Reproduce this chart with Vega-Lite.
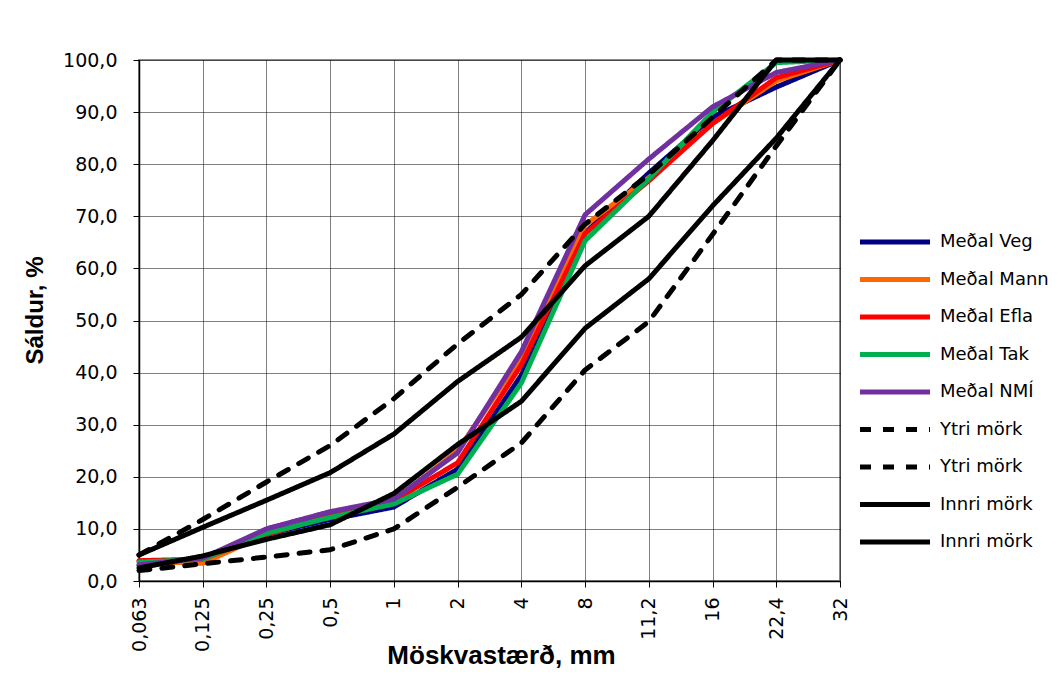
{
  "$schema": "https://vega.github.io/schema/vega-lite/v6.json",
  "autosize": {"type": "none"},
  "width": 701,
  "height": 521,
  "padding": {"left": 139, "top": 60, "right": 220, "bottom": 116},
  "background": "white",
  "config": {
    "view": {"stroke": "#8c8c8c", "strokeWidth": 2},
    "font": "DejaVu Sans",
    "axis": {
      "gridColor": "#000000",
      "gridDash": [1, 1],
      "gridWidth": 1,
      "gridOpacity": 1,
      "domainColor": "#000000",
      "domainWidth": 1.5,
      "tickColor": "#000000",
      "tickSize": 6,
      "labelColor": "#000000",
      "titleColor": "#000000",
      "labelFont": "DejaVu Sans",
      "labelFontSize": 19,
      "titleFont": "Liberation Sans",
      "titleFontWeight": "bold"
    }
  },
  "data": {
    "values": [
      {"size": "0,063", "series": "Meðal Veg", "pct": 3.0},
      {"size": "0,125", "series": "Meðal Veg", "pct": 4.2},
      {"size": "0,25", "series": "Meðal Veg", "pct": 9.0},
      {"size": "0,5", "series": "Meðal Veg", "pct": 11.8},
      {"size": "1", "series": "Meðal Veg", "pct": 14.2},
      {"size": "2", "series": "Meðal Veg", "pct": 21.5},
      {"size": "4", "series": "Meðal Veg", "pct": 39.5},
      {"size": "8", "series": "Meðal Veg", "pct": 66.8},
      {"size": "11,2", "series": "Meðal Veg", "pct": 78.3},
      {"size": "16", "series": "Meðal Veg", "pct": 89.0},
      {"size": "22,4", "series": "Meðal Veg", "pct": 94.8},
      {"size": "32", "series": "Meðal Veg", "pct": 100},

      {"size": "0,063", "series": "Meðal Mann", "pct": 3.8},
      {"size": "0,125", "series": "Meðal Mann", "pct": 3.4},
      {"size": "0,25", "series": "Meðal Mann", "pct": 9.0},
      {"size": "0,5", "series": "Meðal Mann", "pct": 12.5},
      {"size": "1", "series": "Meðal Mann", "pct": 15.4},
      {"size": "2", "series": "Meðal Mann", "pct": 25.0},
      {"size": "4", "series": "Meðal Mann", "pct": 43.0},
      {"size": "8", "series": "Meðal Mann", "pct": 68.3},
      {"size": "11,2", "series": "Meðal Mann", "pct": 77.4},
      {"size": "16", "series": "Meðal Mann", "pct": 87.8},
      {"size": "22,4", "series": "Meðal Mann", "pct": 96.0},
      {"size": "32", "series": "Meðal Mann", "pct": 100},

      {"size": "0,063", "series": "Meðal Efla", "pct": 3.9},
      {"size": "0,125", "series": "Meðal Efla", "pct": 4.2},
      {"size": "0,25", "series": "Meðal Efla", "pct": 9.0},
      {"size": "0,5", "series": "Meðal Efla", "pct": 12.5},
      {"size": "1", "series": "Meðal Efla", "pct": 15.4},
      {"size": "2", "series": "Meðal Efla", "pct": 22.7},
      {"size": "4", "series": "Meðal Efla", "pct": 41.5},
      {"size": "8", "series": "Meðal Efla", "pct": 66.7},
      {"size": "11,2", "series": "Meðal Efla", "pct": 76.8},
      {"size": "16", "series": "Meðal Efla", "pct": 87.8},
      {"size": "22,4", "series": "Meðal Efla", "pct": 96.6},
      {"size": "32", "series": "Meðal Efla", "pct": 100},

      {"size": "0,063", "series": "Meðal Tak", "pct": 3.6},
      {"size": "0,125", "series": "Meðal Tak", "pct": 4.2},
      {"size": "0,25", "series": "Meðal Tak", "pct": 9.2},
      {"size": "0,5", "series": "Meðal Tak", "pct": 12.2},
      {"size": "1", "series": "Meðal Tak", "pct": 14.8},
      {"size": "2", "series": "Meðal Tak", "pct": 20.5},
      {"size": "4", "series": "Meðal Tak", "pct": 38.0},
      {"size": "8", "series": "Meðal Tak", "pct": 65.3},
      {"size": "11,2", "series": "Meðal Tak", "pct": 77.2},
      {"size": "16", "series": "Meðal Tak", "pct": 90.0},
      {"size": "22,4", "series": "Meðal Tak", "pct": 99.5},
      {"size": "32", "series": "Meðal Tak", "pct": 100},

      {"size": "0,063", "series": "Meðal NMÍ", "pct": 3.1},
      {"size": "0,125", "series": "Meðal NMÍ", "pct": 4.4},
      {"size": "0,25", "series": "Meðal NMÍ", "pct": 10.0},
      {"size": "0,5", "series": "Meðal NMÍ", "pct": 13.3},
      {"size": "1", "series": "Meðal NMÍ", "pct": 15.7},
      {"size": "2", "series": "Meðal NMÍ", "pct": 24.6},
      {"size": "4", "series": "Meðal NMÍ", "pct": 44.0},
      {"size": "8", "series": "Meðal NMÍ", "pct": 70.3},
      {"size": "11,2", "series": "Meðal NMÍ", "pct": 81.0},
      {"size": "16", "series": "Meðal NMÍ", "pct": 91.0},
      {"size": "22,4", "series": "Meðal NMÍ", "pct": 97.6},
      {"size": "32", "series": "Meðal NMÍ", "pct": 100},

      {"size": "0,063", "series": "Ytri mörk 1", "pct": 5.0},
      {"size": "0,125", "series": "Ytri mörk 1", "pct": 11.8},
      {"size": "0,25", "series": "Ytri mörk 1", "pct": 19.0},
      {"size": "0,5", "series": "Ytri mörk 1", "pct": 26.0},
      {"size": "1", "series": "Ytri mörk 1", "pct": 35.0},
      {"size": "2", "series": "Ytri mörk 1", "pct": 45.5},
      {"size": "4", "series": "Ytri mörk 1", "pct": 55.0},
      {"size": "8", "series": "Ytri mörk 1", "pct": 68.5},
      {"size": "11,2", "series": "Ytri mörk 1", "pct": 78.0},
      {"size": "16", "series": "Ytri mörk 1", "pct": 89.0},
      {"size": "22,4", "series": "Ytri mörk 1", "pct": 100},
      {"size": "32", "series": "Ytri mörk 1", "pct": 100},

      {"size": "0,063", "series": "Ytri mörk 2", "pct": 2.0},
      {"size": "0,125", "series": "Ytri mörk 2", "pct": 3.3},
      {"size": "0,25", "series": "Ytri mörk 2", "pct": 4.6},
      {"size": "0,5", "series": "Ytri mörk 2", "pct": 6.0},
      {"size": "1", "series": "Ytri mörk 2", "pct": 10.0},
      {"size": "2", "series": "Ytri mörk 2", "pct": 18.0},
      {"size": "4", "series": "Ytri mörk 2", "pct": 26.5},
      {"size": "8", "series": "Ytri mörk 2", "pct": 40.5},
      {"size": "11,2", "series": "Ytri mörk 2", "pct": 49.8},
      {"size": "16", "series": "Ytri mörk 2", "pct": 66.5},
      {"size": "22,4", "series": "Ytri mörk 2", "pct": 83.5},
      {"size": "32", "series": "Ytri mörk 2", "pct": 100},

      {"size": "0,063", "series": "Innri mörk 1", "pct": 5.0},
      {"size": "0,125", "series": "Innri mörk 1", "pct": 10.3},
      {"size": "0,25", "series": "Innri mörk 1", "pct": 15.5},
      {"size": "0,5", "series": "Innri mörk 1", "pct": 20.8},
      {"size": "1", "series": "Innri mörk 1", "pct": 28.2},
      {"size": "2", "series": "Innri mörk 1", "pct": 38.3},
      {"size": "4", "series": "Innri mörk 1", "pct": 46.8},
      {"size": "8", "series": "Innri mörk 1", "pct": 60.5},
      {"size": "11,2", "series": "Innri mörk 1", "pct": 70.0},
      {"size": "16", "series": "Innri mörk 1", "pct": 84.5},
      {"size": "22,4", "series": "Innri mörk 1", "pct": 100},
      {"size": "32", "series": "Innri mörk 1", "pct": 100},

      {"size": "0,063", "series": "Innri mörk 2", "pct": 2.5},
      {"size": "0,125", "series": "Innri mörk 2", "pct": 4.8},
      {"size": "0,25", "series": "Innri mörk 2", "pct": 8.0},
      {"size": "0,5", "series": "Innri mörk 2", "pct": 10.8},
      {"size": "1", "series": "Innri mörk 2", "pct": 16.8},
      {"size": "2", "series": "Innri mörk 2", "pct": 26.2},
      {"size": "4", "series": "Innri mörk 2", "pct": 34.5},
      {"size": "8", "series": "Innri mörk 2", "pct": 48.5},
      {"size": "11,2", "series": "Innri mörk 2", "pct": 58.0},
      {"size": "16", "series": "Innri mörk 2", "pct": 72.0},
      {"size": "22,4", "series": "Innri mörk 2", "pct": 85.0},
      {"size": "32", "series": "Innri mörk 2", "pct": 100}
    ]
  },
  "mark": {"type": "line", "strokeWidth": 5, "strokeCap": "round", "strokeJoin": "round"},
  "encoding": {
    "x": {
      "field": "size",
      "type": "ordinal",
      "sort": ["0,063", "0,125", "0,25", "0,5", "1", "2", "4", "8", "11,2", "16", "22,4", "32"],
      "scale": {"type": "point", "padding": 0},
      "axis": {
        "title": "Möskvastærð, mm",
        "labelAngle": -90,
        "labelPadding": 10,
        "titleFontSize": 26,
        "titleX": 362,
        "titleY": 82,
        "titleBaseline": "alphabetic",
        "grid": true
      }
    },
    "y": {
      "field": "pct",
      "type": "quantitative",
      "scale": {"domain": [0, 100], "nice": false},
      "axis": {
        "title": "Sáldur, %",
        "values": [0, 10, 20, 30, 40, 50, 60, 70, 80, 90, 100],
        "labelExpr": "replace(format(datum.value, '.1f'), '.', ',')",
        "labelPadding": 16,
        "titleFontSize": 24,
        "titleX": -92,
        "titleY": 250,
        "grid": true
      }
    },
    "color": {
      "field": "series",
      "type": "nominal",
      "scale": {
        "domain": ["Meðal Veg", "Meðal Mann", "Meðal Efla", "Meðal Tak", "Meðal NMÍ", "Ytri mörk 1", "Ytri mörk 2", "Innri mörk 1", "Innri mörk 2"],
        "range": ["#000080", "#FF6600", "#FF0000", "#00B050", "#7030A0", "#000000", "#000000", "#000000", "#000000"]
      },
      "legend": {
        "title": null,
        "orient": "none",
        "legendX": 736,
        "legendY": 162,
        "symbolType": "M-2,0H2",
        "symbolSize": 1225,
        "symbolStrokeWidth": 5,
        "labelFont": "DejaVu Sans",
        "labelFontSize": 18,
        "labelColor": "#000000",
        "labelOffset": 25,
        "labelLimit": 200,
        "rowPadding": 7.5,
        "labelExpr": "replace(replace(datum.label, ' 1', ''), ' 2', '')"
      }
    },
    "strokeDash": {
      "field": "series",
      "type": "nominal",
      "scale": {
        "domain": ["Meðal Veg", "Meðal Mann", "Meðal Efla", "Meðal Tak", "Meðal NMÍ", "Ytri mörk 1", "Ytri mörk 2", "Innri mörk 1", "Innri mörk 2"],
        "range": [[1, 0], [1, 0], [1, 0], [1, 0], [1, 0], [11, 12], [11, 12], [1, 0], [1, 0]]
      }
    }
  }
}
